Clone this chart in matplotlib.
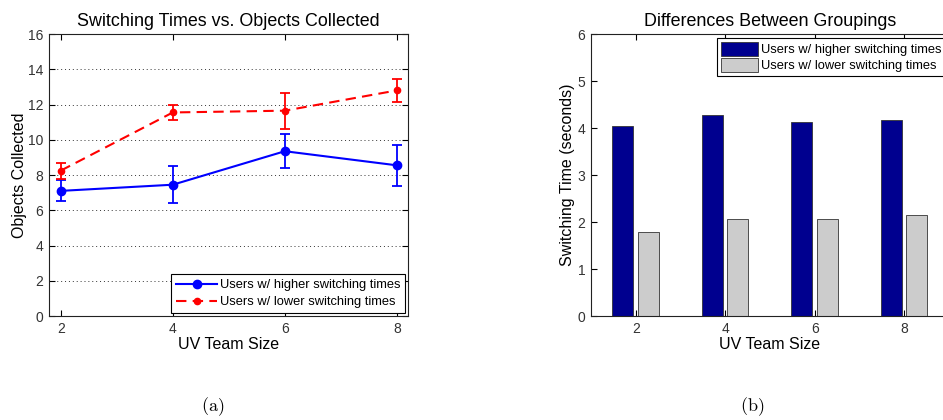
import numpy as np
import matplotlib
matplotlib.use('Agg')
from matplotlib import pyplot as plt

plt.rcParams['font.family'] = ['Liberation Sans', 'DejaVu Sans']
plt.rcParams['mathtext.fontset'] = 'cm'

team_size = [2, 4, 6, 8]

# (a) objects collected
high_obj = [7.1, 7.45, 9.35, 8.55]
high_err = [0.6, 1.05, 0.97, 1.15]
low_obj = [8.25, 11.55, 11.65, 12.8]
low_err = [0.45, 0.45, 1.03, 0.65]

# (b) switching times
high_switch = [4.05, 4.27, 4.13, 4.18]
low_switch = [1.79, 2.06, 2.07, 2.14]

labels = ['Users w/ higher switching times', 'Users w/ lower switching times']

fig = plt.figure(figsize=(9.43, 4.2), dpi=100)

ax1 = fig.add_axes([0.052, 0.2476, 0.3807, 0.6714])
e1 = ax1.errorbar(team_size, high_obj, yerr=high_err, color='#0000ff', lw=1.5,
                  marker='o', ms=6, capsize=3.5, capthick=1.3, elinewidth=1.3,
                  label=labels[0], zorder=3)
e2 = ax1.errorbar(team_size, low_obj, yerr=low_err, color='#ff0000', lw=1.5, ls='--',
                  dashes=(5, 3), marker='o', ms=4.5, capsize=3.5, capthick=1.3,
                  elinewidth=1.3, label=labels[1], zorder=3)
ax1.set_xlim(1.79, 8.2)
ax1.set_ylim(0, 16)
ax1.set_xticks(team_size)
ax1.set_yticks(range(0, 17, 2))
ax1.yaxis.grid(True, ls=(0, (1, 3)), color='#333333', lw=0.7)
ax1.set_title('Switching Times vs. Objects Collected', fontsize=12.9, pad=6)
ax1.set_xlabel('UV Team Size', fontsize=11.5, labelpad=1)
ax1.set_ylabel('Objects Collected', fontsize=11.5, labelpad=1)
leg1 = ax1.legend([e1[0], e2[0]], labels, loc='lower right', fontsize=9.3,
                  fancybox=False, edgecolor='black', handlelength=3.2,
                  handletextpad=0.2, borderaxespad=0.25, borderpad=0.35,
                  labelspacing=0.4, framealpha=1)
leg1.get_frame().set_linewidth(0.8)

ax2 = fig.add_axes([0.6267, 0.2476, 0.3796, 0.6714])
x = np.array(team_size)
w = 0.47
ax2.bar(x - 0.285, high_switch, w, color='#00008f', edgecolor='#333333', lw=0.6,
        label=labels[0])
ax2.bar(x + 0.285, low_switch, w, color='#cccccc', edgecolor='#333333', lw=0.6,
        label=labels[1])
ax2.set_xlim(1, 9)
ax2.set_ylim(0, 6)
ax2.set_xticks(team_size)
ax2.set_yticks(range(0, 7))
ax2.set_title('Differences Between Groupings', fontsize=12.9, pad=6)
ax2.set_xlabel('UV Team Size', fontsize=11.5, labelpad=1)
ax2.set_ylabel('Switching Time (seconds)', fontsize=11.5, labelpad=2)
leg2 = ax2.legend(loc='upper right', fontsize=9.3, fancybox=False, edgecolor='black',
                  handlelength=2.9, handleheight=1.3, handletextpad=0.2,
                  borderaxespad=0.3, borderpad=0.3, labelspacing=0.15,
                  framealpha=1, bbox_to_anchor=(1.0, 1.0))
leg2.get_frame().set_linewidth(0.8)

for ax in (ax1, ax2):
    ax.tick_params(direction='in', top=True, right=True, labelsize=10,
                   labelcolor='#333333', length=4, width=0.8, pad=4)
    for s in ax.spines.values():
        s.set_linewidth(0.8)
        s.set_color('#222222')

fig.text(0.2255, 0.031, r'$\mathrm{(a)}$', ha='center', va='center', fontsize=13)
fig.text(0.798, 0.031, r'$\mathrm{(b)}$', ha='center', va='center', fontsize=13)

fig.savefig('out.png', dpi=100)
